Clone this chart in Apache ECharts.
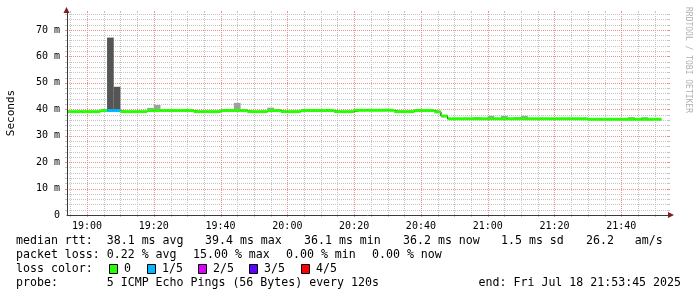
<!DOCTYPE html>
<html><head><meta charset="utf-8">
<script src="https://cdn.jsdelivr.net/npm/echarts@6/dist/echarts.min.js"></script>
<style>html,body{margin:0;padding:0;background:#fff}#c{width:697px;height:297px}</style>
</head><body><div id="c"></div>
<script>
// ---- data (x in minutes since 18:00, one slot = 2 min) ----
const firstSlotMinute = 54;      // 18:54
const slotMinutes = 2;
const axisStartMinute = 54;      // 18:54
const axisEndMinute = 234;       // 21:54
const yMax = 76.4;
const median = [
  39.1,39.1,39.1,39.1,39.1, 39.5, 39.5,39.5, 39.1,39.1,39.1,39.1,
  39.5,39.5,39.5,39.5,39.5,39.5,39.5, 39.1,39.1,39.1,39.1,
  39.5,39.5,39.5,39.5, 39.1,39.1,39.1, 39.5,39.5, 39.1,39.1,39.1,
  39.5,39.5,39.5,39.5,39.5, 39.1,39.1,39.1, 39.6,39.6,39.6,39.6,39.6,39.6,
  39.1,39.1,39.1, 39.5,39.5,39.5, 39.0, 37.4,
  36.4,36.4,36.4,36.4,36.4,36.4,36.4,36.4,36.4,36.4,36.4,36.4,36.4,36.4,36.4,36.4,36.4,36.4,36.4,36.4,36.4,
  36.2,36.2,36.2,36.2,36.2,36.2,36.2,36.2,36.2,36.2,36.2
];
const lossSlots = [6, 7];
const lossValues = [1, 1];       // pings lost out of 5
const smokeSlots = [6,7,12,13,23,24,25,26,30,31,35,36,37,38,39,52,61,63,65,67,68,84,85,86];
const smokeTops  = [67.1,48.5,40.5,41.6,40.1,40.1,42.4,40.1,40.6,40.0,39.9,39.9,39.9,39.9,39.9,40.0,37.0,37.5,37.5,37.0,37.5,37.0,36.6,37.0];
const lossLabels = ['0','1/5','2/5','3/5','4/5'];
const lossColors = ['#26ff00','#00b8ff','#dd00ff','#5e00ff','#ff0000'];
const statsLine1 = ['median rtt:  38.1 ms avg', '39.4 ms max', '36.1 ms min', '36.2 ms now', '1.5 ms sd', '26.2   am/s'];
const statsLine2 = ['packet loss: 0.22 % avg', '15.00 % max', '0.00 % min', '0.00 % now'];
const probeLine = 'probe:       5 ICMP Echo Pings (56 Bytes) every 120s';
const endLine = 'end: Fri Jul 18 21:53:45 2025';

// ---- build ----
const FONT = 'DejaVu Sans Mono';
const TXT = '11.6px "' + FONT + '"';
const slotTime = i => firstSlotMinute + i * slotMinutes;
const lossOf = i => { const k = lossSlots.indexOf(i); return k < 0 ? 0 : lossValues[k]; };
const medianData = median.map((v, i) => [slotTime(i), v, lossOf(i)]);
const joinData = median.map((v, i) => [slotTime(i), v]);
joinData.push([slotTime(median.length), median[median.length - 1]]);
const smokeData = smokeSlots.map((s, k) => [slotTime(s), median[s], smokeTops[k]]);

// grid lines: [value, 0=vertical/1=horizontal]
const minorGridData = [], majorGridData = [];
for (let m = 55; m < axisEndMinute; m += 5) (m % 20 === 0 ? majorGridData : minorGridData).push([m, 0]);
for (let v = 2; v < yMax; v += 2) (v % 10 === 0 ? majorGridData : minorGridData).push([v, 1]);

const fmtTime = v => { const h = 18 + Math.floor(v / 60), m = v % 60; return h + ':' + (m < 10 ? '0' : '') + m; };

const chart = echarts.init(document.getElementById('c'), null, {renderer: 'canvas'});
const txt = (x, y, s, extra) => ({type:'text', x: x, y: y, style: Object.assign({text: s, font: TXT, fill:'#000', verticalAlign:'middle'}, extra || {})});
const graphic = [
  {type:'text', x: 11, y: 113, rotation: Math.PI/2, style:{text:'Seconds', font:'11px "'+FONT+'"', fill:'#000', align:'center', verticalAlign:'middle'}},
  {type:'text', x: 688, y: 60, rotation: -Math.PI/2, style:{text:'RRDTOOL / TOBI OETIKER', font:'8px "'+FONT+'"', fill:'#b0b0b0', align:'center', verticalAlign:'middle'}},
  txt(16, 269, 'loss color:'),
  txt(16, 283, probeLine),
  txt(681, 283, endLine, {align:'right'}),
  {type:'polygon', shape:{points:[[63.5,13],[69.5,13],[66.5,7]]}, style:{fill:'#801f1f'}},
  {type:'polygon', shape:{points:[[668,212],[668,218],[674,215]]}, style:{fill:'#801f1f'}}
];
const line1X = [16, 205, 304, 403, 501, 586];
statsLine1.forEach((s, k) => graphic.push(txt(line1X[k], 241, s)));
const line2X = [16, 193, 286, 372];
statsLine2.forEach((s, k) => graphic.push(txt(line2X[k], 255, s)));
const boxX = [109, 147, 198, 249, 301];
lossLabels.forEach((lab, k) => {
  graphic.push({type:'rect', shape:{x: boxX[k] + 0.5, y: 264.5, width: 8, height: 9}, style:{fill: lossColors[k], stroke:'#000', lineWidth:1}});
  graphic.push(txt(boxX[k] + 15, 269, lab));
});

// rrdtool-style grid: dotted line plus short solid ticks 2px outside both ends
const gridRenderer = color => (params, api) => {
  const v = api.value(0), horiz = api.value(1) === 1;
  let a, b, t1, t2;
  if (horiz) {
    a = api.coord([axisStartMinute, v]); b = api.coord([axisEndMinute, v]);
    const y = Math.round(a[1]) + 0.5; a[1] = y; b[1] = y;
    t1 = {x1: a[0] - 2, y1: y, x2: a[0], y2: y}; t2 = {x1: b[0], y1: y, x2: b[0] + 2, y2: y};
  } else {
    a = api.coord([v, 0]); b = api.coord([v, yMax]);
    const x = Math.round(a[0]) + 0.5; a[0] = x; b[0] = x;
    t1 = {x1: x, y1: a[1], x2: x, y2: a[1] + 2}; t2 = {x1: x, y1: b[1] - 2, x2: x, y2: b[1]};
  }
  return {type:'group', children:[
    {type:'line', shape:{x1:a[0], y1:a[1], x2:b[0], y2:b[1]}, style:{stroke: color, lineWidth: 1, lineDash:[1,1]}},
    {type:'line', shape: t1, style:{stroke: color, lineWidth: 1}},
    {type:'line', shape: t2, style:{stroke: color, lineWidth: 1}}
  ]};
};

const option = {
  animation: false,
  backgroundColor: '#ffffff',
  grid: {left: 67, right: 29, top: 13, bottom: 82, containLabel: false},
  xAxis: {type:'value', min: axisStartMinute, max: axisEndMinute, splitNumber: 9, position:'bottom', z: 5,
     axisLine:{show:true, lineStyle:{color:'#3a3a3a', width:1}}, axisTick:{show:false},
     axisLabel:{show:true, showMinLabel:false, showMaxLabel:false, margin: 6, color:'#000', fontFamily: FONT, fontSize: 10,
       formatter: v => (v % 20 === 0 ? fmtTime(v) : '')},
     splitLine:{show:false}},
  yAxis: {type:'value', min: 0, max: yMax, interval: 10, position:'left', z: 5,
     axisLine:{show:true, lineStyle:{color:'#3a3a3a', width:1}}, axisTick:{show:false},
     axisLabel:{show:true, showMaxLabel:false, margin: 7, color:'#000', fontFamily: FONT, fontSize: 10,
       formatter: v => (v === 0 ? '0' : (v % 10 === 0 ? v + ' m' : ''))},
     splitLine:{show:false}},
  series: [
    {type:'custom', name:'minorGrid', silent:true, z: 0, clip: false, data: minorGridData, renderItem: gridRenderer('#c4c4c4')},
    {type:'custom', name:'majorGrid', silent:true, z: 1, clip: false, data: majorGridData, renderItem: gridRenderer('#e99090')},
    {type:'custom', name:'smoke', z: 2, data: smokeData,
     renderItem: (params, api) => {
       const t = api.value(0), lo = api.value(1), hi = api.value(2);
       const p0 = api.coord([t, hi]), p1 = api.coord([t + slotMinutes, lo]);
       return {type:'rect', shape:{x:p0[0], y:p0[1], width:p1[0]-p0[0], height:p1[1]-p0[1]},
               style:{fill: (hi - lo > 5) ? '#555555' : '#a0a0a0'}};
     }},
    {type:'line', name:'join', z: 3, step:'end', symbol:'none', data: joinData,
     lineStyle:{color:'#000', width:1}},
    {type:'custom', name:'median', z: 4, data: medianData,
     renderItem: (params, api) => {
       const t = api.value(0), v = api.value(1), loss = api.value(2);
       const p0 = api.coord([t, v]), p1 = api.coord([t + slotMinutes, v]);
       return {type:'rect', shape:{x:p0[0], y:p0[1]-1.5, width:p1[0]-p0[0], height:3},
               style:{fill: lossColors[loss]}};
     }}
  ],
  graphic: graphic
};
chart.setOption(option);
</script></body></html>
